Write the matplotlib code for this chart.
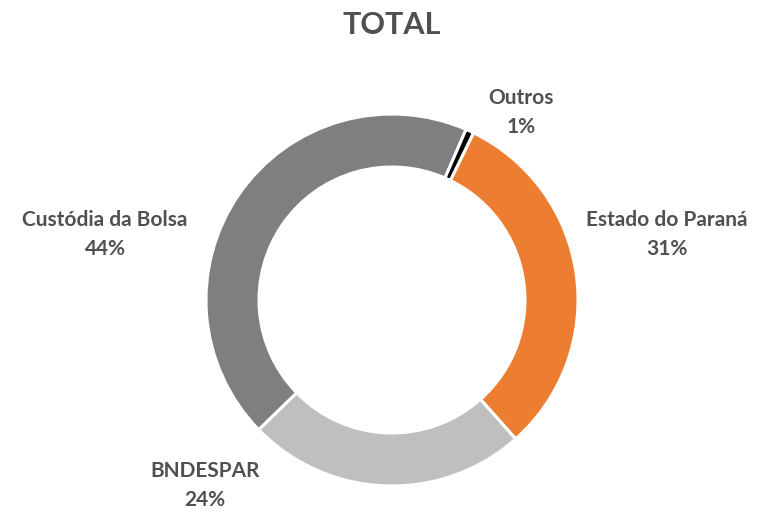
import matplotlib
matplotlib.use("Agg")
import matplotlib.pyplot as plt

categories = ["Estado do Paraná", "BNDESPAR", "Custódia da Bolsa", "Outros"]
values = [31.2, 24.3, 43.8, 0.7]
pct_labels = ["31%", "24%", "44%", "1%"]
colors = ["#ED7D31", "#BFBFBF", "#7F7F7F", "#000000"]
title = "TOTAL"

W, H = 767, 512
fig = plt.figure(figsize=(W / 100, H / 100), dpi=100)
ax = fig.add_axes([0, 0, 1, 1])

cx, cy, R, width = 392, H - 300, 186, 53
ax.pie(values, colors=colors, startangle=64, counterclock=False,
       center=(cx, cy), radius=R, frame=True,
       wedgeprops=dict(width=width, edgecolor="white", linewidth=2.2))
ax.set_xlim(0, W)
ax.set_ylim(0, H)
ax.set_aspect("equal")
ax.axis("off")

txt = "#505050"
font = "Lato"
label_pos = {
    "Estado do Paraná": (667, 220),
    "BNDESPAR": (205, 471),
    "Custódia da Bolsa": (105, 220),
    "Outros": (521, 98),
}
for cat, pct in zip(categories, pct_labels):
    x, y = label_pos[cat]
    ax.text(x, H - y, cat, ha="center", va="center", fontsize=15,
            fontweight="bold", color=txt, family=font)
    ax.text(x, H - (y + 29), pct, ha="center", va="center", fontsize=15,
            fontweight="bold", color=txt, family=font)

ax.text(392, H - 25, title, ha="center", va="center", fontsize=22,
        fontweight="bold", color=txt, family=font)

fig.savefig("out.png", dpi=100)
